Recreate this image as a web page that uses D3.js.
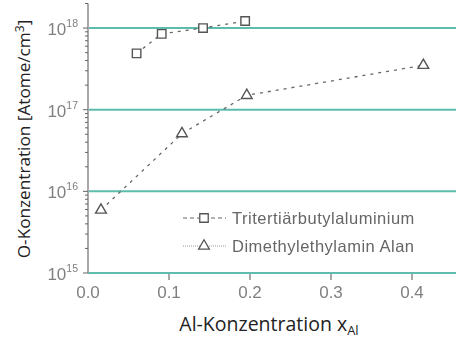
<!DOCTYPE html>
<html>
<head>
<meta charset="utf-8">
<script src="https://cdn.jsdelivr.net/npm/d3@7"></script>
<style>
  html, body { margin: 0; padding: 0; background: #fff; }
  svg { display: block; }
</style>
</head>
<body>
<svg id="chart" width="456" height="340"></svg>
<script>
// Aluminium fraction x_Al and oxygen concentration (atoms/cm³) per precursor
const xTBA = [0.060, 0.091, 0.142, 0.194];
const oTBA = [4.9e17, 8.5e17, 1.0e18, 1.22e18];
const xDMEAA = [0.016, 0.116, 0.196, 0.414];
const oDMEAA = [5.9e15, 5.1e16, 1.5e17, 3.5e17];

const seriesNames = ["Tritertiärbutylaluminium", "Dimethylethylamin Alan"];
const xTicks = [0.0, 0.1, 0.2, 0.3, 0.4];
const yDecades = [15, 16, 17, 18];

const svg = d3.select("#chart");
const W = 456, H = 340;

const x = d3.scaleLinear().domain([0, 0.4543]).range([88, 456]);
const y = d3.scaleLog().domain([1e15, 2e18]).range([273, 3.5]);

// soft rendering of the plotted elements
const defs = svg.append("defs");
defs.append("filter").attr("id", "soft")
  .attr("x", "-5%").attr("y", "-5%").attr("width", "110%").attr("height", "110%")
  .append("feGaussianBlur").attr("stdDeviation", 0.65);

const plot = svg.append("g").attr("filter", "url(#soft)");

// horizontal decade gridlines
plot.append("g").selectAll("line")
  .data(yDecades)
  .join("line")
  .attr("x1", x(0)).attr("x2", W)
  .attr("y1", d => y(Math.pow(10, d))).attr("y2", d => y(Math.pow(10, d)))
  .attr("stroke", "#5cbcad").attr("stroke-width", 2);

// y axis line
plot.append("line")
  .attr("x1", x(0)).attr("x2", x(0))
  .attr("y1", y(2e18)).attr("y2", y(1e15))
  .attr("stroke", "#a8a8a8").attr("stroke-width", 2);

// log ticks on the left of the y axis
const logTicks = [];
for (let e = 15; e <= 18; e++) {
  for (let m = 1; m <= 9; m++) {
    const v = m * Math.pow(10, e);
    if (v <= 2e18) logTicks.push({ v, major: m === 1 });
  }
}
plot.append("g").selectAll("line")
  .data(logTicks)
  .join("line")
  .attr("x1", d => x(0) - (d.major ? 5 : 3)).attr("x2", x(0))
  .attr("y1", d => y(d.v)).attr("y2", d => y(d.v))
  .attr("stroke", "#666").attr("stroke-width", 1);

// y tick labels 10^n
const yLab = plot.append("g").selectAll("text")
  .data(yDecades)
  .join("text")
  .attr("x", 78).attr("y", d => y(Math.pow(10, d)) + 7)
  .attr("text-anchor", "end")
  .attr("font-family", "Liberation Sans, Arial, sans-serif")
  .attr("font-size", 17).attr("fill", "#808080");
yLab.append("tspan").text("10");
yLab.append("tspan").attr("dy", -8).attr("font-size", 10.5).text(d => d);

// x axis ticks and labels
plot.append("g").selectAll("line")
  .data(xTicks.filter(d => d > 0))
  .join("line")
  .attr("x1", d => x(d)).attr("x2", d => x(d))
  .attr("y1", 274).attr("y2", 280)
  .attr("stroke", "#555").attr("stroke-width", 1);
plot.append("g").selectAll("text")
  .data(xTicks)
  .join("text")
  .attr("x", d => x(d)).attr("y", 298)
  .attr("text-anchor", "middle")
  .attr("font-family", "Liberation Sans, Arial, sans-serif")
  .attr("font-size", 17).attr("fill", "#808080")
  .text(d => d.toFixed(1));

// series lines
const line = d3.line().x(d => x(d[0])).y(d => y(d[1]));
const tba = xTBA.map((v, i) => [v, oTBA[i]]);
const dmeaa = xDMEAA.map((v, i) => [v, oDMEAA[i]]);

[tba, dmeaa].forEach(pts => {
  plot.append("path")
    .attr("d", line(pts))
    .attr("fill", "none")
    .attr("stroke", "#666").attr("stroke-width", 1.3)
    .attr("stroke-dasharray", "3,5");
});

// markers
const sq = d3.symbol().type(d3.symbolSquare).size(72);
const tri = d3.symbol().type(d3.symbolTriangle).size(50);
plot.append("g").selectAll("path")
  .data(tba)
  .join("path")
  .attr("d", sq)
  .attr("transform", d => `translate(${x(d[0])},${y(d[1])})`)
  .attr("fill", "#fff").attr("stroke", "#555").attr("stroke-width", 1.4);
plot.append("g").selectAll("path")
  .data(dmeaa)
  .join("path")
  .attr("d", tri)
  .attr("transform", d => `translate(${x(d[0])},${y(d[1])})`)
  .attr("fill", "#fff").attr("stroke", "#555").attr("stroke-width", 1.4);

// legend
const legend = plot.append("g");
const legRows = [
  { name: seriesNames[0], sym: sq, dash: "4,3", color: "#666", yy: 218 },
  { name: seriesNames[1], sym: tri, dash: "1,1", color: "#999", yy: 246 }
];
legRows.forEach(r => {
  legend.append("line")
    .attr("x1", 183).attr("x2", 226)
    .attr("y1", r.yy).attr("y2", r.yy)
    .attr("stroke", r.color).attr("stroke-width", 1.2)
    .attr("stroke-dasharray", r.dash);
  legend.append("path")
    .attr("d", r.sym)
    .attr("transform", `translate(204,${r.yy})`)
    .attr("fill", "#fff").attr("stroke", "#555").attr("stroke-width", 1.3);
  legend.append("text")
    .attr("x", 232).attr("y", r.yy + 5.5)
    .attr("font-family", "Liberation Sans, Arial, sans-serif")
    .attr("font-size", 16.5).attr("fill", "#666")
    .attr("letter-spacing", 0.5)
    .text(r.name);
});

// axis titles
const yTitle = svg.append("text")
  .attr("transform", "translate(30,139) rotate(-90)")
  .attr("text-anchor", "middle")
  .attr("font-family", "Open Sans, sans-serif")
  .attr("font-size", 17.2).attr("fill", "#222");
yTitle.append("tspan").text("O-Konzentration [Atome/cm");
yTitle.append("tspan").attr("dy", -6).attr("font-size", 12).text("3");
yTitle.append("tspan").attr("dy", 6).text("]");

const xTitle = svg.append("text")
  .attr("x", 269).attr("y", 331)
  .attr("text-anchor", "middle")
  .attr("font-family", "Open Sans, sans-serif")
  .attr("font-size", 19.5).attr("fill", "#222");
xTitle.append("tspan").text("Al-Konzentration x");
xTitle.append("tspan").attr("dy", 4).attr("font-size", 13).text("Al");
</script>
</body>
</html>
